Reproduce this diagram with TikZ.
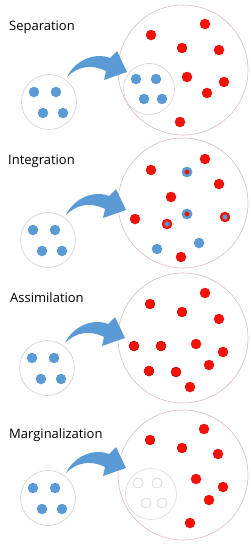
\documentclass[tikz,border=0pt]{standalone}
\usepackage{fontspec}
\setmainfont{Open Sans}
\usetikzlibrary{positioning, calc}

\definecolor{dotblue}{HTML}{5B9BD5}
\definecolor{dotred}{HTML}{F01208}
\definecolor{ringgray}{HTML}{D9CFCF}
\definecolor{ringpink}{HTML}{DDBBBE}

\begin{document}
\begin{tikzpicture}[
  x=1pt, y=-1pt,
  font=\fontsize{13}{15}\selectfont,
  title/.style={anchor=base west, inner sep=0pt},
  society/.style={draw=ringpink, circle, minimum size=130pt, inner sep=0pt, line width=0.6pt},
  group/.style={draw=ringgray, circle, minimum size=55pt, inner sep=0pt, line width=0.6pt},
  bdot/.style={circle, fill=dotblue, minimum size=10.5pt, inner sep=0pt},
  rdot/.style={circle, fill=dotred, minimum size=10.5pt, inner sep=0pt},
  adot/.style={rdot, draw=dotred!75!black, line width=0.5pt, minimum size=10pt},
  brdot/.style={circle, fill=dotred, draw=dotblue, line width=2.6pt, minimum size=8pt, inner sep=0pt},
  rbdot/.style={circle, fill=dotblue, draw=dotred, line width=2.4pt, minimum size=8pt, inner sep=0pt},
  ghost/.style={circle, fill=white, draw=gray!35, line width=0.6pt, minimum size=10pt, inner sep=0pt},
  move/.style={fill=dotblue}
]
\useasboundingbox[fill=white] (0,0) rectangle (250,546);

% titles
\node[title] (T1) at (9,30.5) {Separation};
\node[title] (T2) at (8,164) {Integration};
\node[title] (T3) at (10,302) {Assimilation};
\node[title] (T4) at (9,438) {Marginalization};

% host societies and minority groups
\node[society] (S1) at (183,70) {};
\node[society] (S2) at (183,203) {};
\node[society] (S3) at (183,338) {};
\node[society] (S4) at (183,475) {};
\node[group] (L1) at (49,102) {};
\node[group] (L2) at (48,240) {};
\node[group] (L3) at (47,368) {};
\node[group] (L4) at (48,498) {};
\node[group, minimum size=51pt] (G1) at (149,89) {};
\node[group, minimum size=51pt, draw=ringgray!80] (G4) at (151,494) {};

% minority members
\foreach \g in {L1,L2,L3,L4}
  \foreach \dx/\dy [count=\i] in {-15/-10, 7/-10, -6/11, 14/11}
    \node[bdot] (\g d\i) at ($(\g)+(\dx,\dy)$) {};
\foreach \dx/\dy [count=\i] in {-13/-10, 7/-10, -5/10, 13/10}
  \node[bdot] (G1d\i) at ($(G1)+(\dx,\dy)$) {};
\foreach \dx/\dy [count=\i] in {-13/-11, 6/-11, -5/9, 11/9}
  \node[ghost] (G4d\i) at ($(G4)+(\dx,\dy)$) {};

% majority members
\foreach \x/\y [count=\i] in {151/35, 205/24, 182/48, 219/50, 187/77, 224/82, 207/93, 180/122}
  \node[rdot] (S1r\i) at (\x,\y) {};
\foreach \x/\y [count=\i] in {151/170, 205/159, 219/184, 171/197, 135/219, 181/257}
  \node[rdot] (S2r\i) at (\x,\y) {};
\node[brdot] (S2m1) at (187,172) {};
\node[brdot] (S2m2) at (187,214) {};
\node[rbdot] (S2m3) at (167,224) {};
\node[rbdot] (S2m4) at (225,217) {};
\node[bdot] (S2b1) at (157,249) {};
\node[bdot] (S2b2) at (199,243) {};
\foreach \x/\y [count=\i] in {150/304, 205/293, 182/312, 219/319, 196/344, 223/352, 209/365, 190/387}
  \node[rdot] (S3r\i) at (\x,\y) {};
\foreach \x/\y [count=\i] in {134/346, 161/346, 149/371, 176/372}
  \node[adot] (S3a\i) at (\x,\y) {};
\foreach \x/\y [count=\i] in {150/440, 204/429, 182/448, 218/454, 196/479, 223/487, 209/500, 190/523}
  \node[rdot] (S4r\i) at (\x,\y) {};

% curved arrows
\foreach \g in {L1,L2,L3,L4}
  \fill[move, shift={(\g)}] (18,-25) .. controls (26,-42) and (46,-50) .. (61,-44)
    -- (68,-51) -- (78,-30) -- (55,-22) -- (57,-31)
    .. controls (43,-38) and (29,-36) .. cycle;
\end{tikzpicture}
\end{document}
